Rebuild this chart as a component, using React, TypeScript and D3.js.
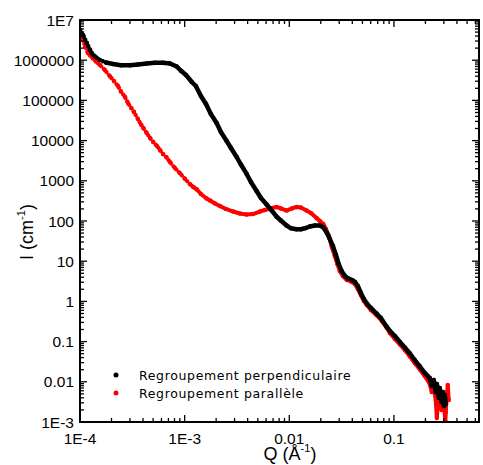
import React from "react";
import * as d3 from "d3";

const perpQ = [1.00e-4,1.07e-4,1.16e-4,1.25e-4,1.30e-4,1.39e-4,1.55e-4,1.77e-4,2.07e-4,2.46e-4,3.01e-4,3.58e-4,4.34e-4,5.20e-4,6.21e-4,7.24e-4,8.39e-4,9.29e-4,1.03e-3,1.17e-3,1.28e-3,1.43e-3,1.60e-3,1.78e-3,2.02e-3,2.22e-3,2.52e-3,2.77e-3,3.14e-3,3.45e-3,3.91e-3,4.30e-3,4.87e-3,5.36e-3,6.07e-3,6.67e-3,7.56e-3,8.31e-3,9.42e-3,1.04e-2,1.17e-2,1.29e-2,1.44e-2,1.57e-2,1.76e-2,1.96e-2,2.12e-2,2.29e-2,2.44e-2,2.61e-2,2.79e-2,2.94e-2,3.16e-2,3.40e-2,3.65e-2,3.97e-2,4.24e-2,4.52e-2,4.83e-2,5.16e-2,5.51e-2,6.02e-2,6.82e-2,7.50e-2,8.49e-2,9.14e-2,0.102,0.114,0.127,0.142,0.158,0.177,0.197,0.220,0.230,0.240,0.251,0.257,0.269,0.274,0.286,0.293,0.300,0.306,0.313];
const perpI = [5.64e6,4.24e6,2.68e6,1.79e6,1.47e6,1.24e6,1.01e6,8.77e5,8.05e5,7.46e5,7.46e5,7.82e5,8.28e5,8.61e5,8.67e5,8.28e5,6.97e5,5.38e5,4.29e5,2.87e5,2.28e5,1.29e5,8.13e4,4.59e4,2.74e4,1.64e4,9.77e3,6.55e3,3.91e3,2.54e3,1.48e3,933,557,373,257,193,128,103,77.3,65.8,62.2,62.2,67.0,72.9,77.3,77.3,68.9,50.2,35.6,23.9,14.3,9.02,5.70,4.29,3.72,3.41,3.04,2.42,1.62,1.15,0.887,0.686,0.500,0.386,0.238,0.184,0.138,0.0977,0.0713,0.0506,0.0348,0.0240,0.0166,0.0124,0.00787,0.0111,0.00557,0.00881,0.00395,0.00702,0.00315,0.00557,0.00250,0.00470,0.00281];

const paraQ = [1.00e-4,1.04e-4,1.12e-4,1.19e-4,1.25e-4,1.33e-4,1.42e-4,1.55e-4,1.73e-4,1.94e-4,2.11e-4,2.31e-4,2.46e-4,2.68e-4,2.87e-4,3.09e-4,3.28e-4,3.58e-4,3.83e-4,4.03e-4,4.34e-4,4.67e-4,5.01e-4,5.44e-4,5.81e-4,6.21e-4,6.73e-4,7.24e-4,8.07e-4,9.02e-4,1.01e-3,1.12e-3,1.21e-3,1.31e-3,1.43e-3,1.62e-3,1.75e-3,1.95e-3,2.17e-3,2.48e-3,2.91e-3,3.37e-3,3.91e-3,4.49e-3,5.24e-3,5.85e-3,6.53e-3,7.56e-3,8.31e-3,9.42e-3,1.06e-2,1.17e-2,1.29e-2,1.46e-2,1.61e-2,1.82e-2,1.96e-2,2.11e-2,2.24e-2,2.39e-2,2.55e-2,2.72e-2,2.88e-2,3.04e-2,3.25e-2,3.55e-2,3.88e-2,4.24e-2,4.52e-2,4.83e-2,5.16e-2,5.51e-2,6.02e-2,6.87e-2,7.66e-2,8.55e-2,9.14e-2,0.102,0.114,0.127,0.142,0.158,0.177,0.197,0.220,0.230,0.240,0.251,0.257,0.263,0.274,0.286,0.300,0.310,0.313,0.320,0.327,0.334];
const paraI = [4.75e6,3.56e6,2.25e6,1.51e6,1.31e6,1.10e6,9.29e5,7.60e5,5.70e5,3.94e5,3.04e5,2.28e5,1.66e5,1.25e5,8.61e4,6.47e4,5.14e4,3.44e4,2.51e4,2.06e4,1.55e4,1.16e4,9.23e3,7.34e3,5.84e3,4.65e3,3.80e3,2.94e3,2.08e3,1.54e3,1.11e3,832,701,608,470,363,324,272,236,199,172,154,145,149,172,188,205,223,205,182,205,223,217,182,158,119,100,84.1,63.2,42.4,22.5,13.5,8.51,5.70,4.29,3.41,3.13,2.71,2.03,1.44,1.02,0.813,0.611,0.446,0.325,0.218,0.164,0.116,0.0847,0.0618,0.0426,0.0294,0.0202,0.0139,0.00881,0.00557,0.00702,0.00352,0.00126,0.00265,0.00315,0.00199,0.00281,0.00106,0.00177,0.00470,0.00832,0.00352];

const yTickVals = [1e7,1e6,1e5,1e4,1e3,100,10,1,0.1,0.01,1e-3];
const yTickLabels = ["1E7","1000000","100000","10000","1000","100","10","1","0.1","0.01","1E-3"];
const xTickVals = [1e-4,1e-3,0.01,0.1];
const xTickLabels = ["1E-4","1E-3","0.01","0.1"];
const seriesNames = ["Regroupement perpendiculaire","Regroupement parallèle"];
const seriesColors = ["#000000","#ff0000"];

const W = 483, H = 465;
const L = 80, R = 479, T = 20, B = 422;

export default function App() {
  const x = d3.scaleLog().domain([1e-4, 0.65]).range([L, R]);
  const y = d3.scaleLog().domain([1e-3, 1e7]).range([B, T]);

  const xMinor: number[] = [];
  for (let e = -4; e <= -1; e++) for (let m = 2; m <= 9; m++) {
    const v = m * Math.pow(10, e);
    if (v <= 0.65) xMinor.push(v);
  }
  const yMinor: number[] = [];
  for (let e = -3; e < 7; e++) for (let m = 2; m <= 9; m++) yMinor.push(m * Math.pow(10, e));

  const perp = perpQ.map((q, i) => [q, perpI[i]] as [number, number]);
  const para = paraQ.map((q, i) => [q, paraI[i]] as [number, number]);
  const line = d3.line<[number, number]>().x(d => x(d[0])).y(d => y(d[1]));
  const paraLow = para.filter(d => d[0] <= 1.12e-3);
  const paraHigh = para.filter(d => d[0] >= 1.1e-3);
  const perpLow = perp.filter(d => d[0] <= 1.8e-4);
  const perpHigh = perp.filter(d => d[0] >= 1.7e-4);

  const font = "'Liberation Sans', Arial, sans-serif";
  const MJ = 7, MN = 4;

  return (
    <svg width={W} height={H} style={{ position: "absolute", left: 0, top: 0, background: "#fff" }}>
      <defs>
        <clipPath id="plot"><rect x={L} y={T} width={R - L} height={B - T} /></clipPath>
      </defs>
      <g clipPath="url(#plot)">
        <path d={line(paraLow) || ""} fill="none" stroke={seriesColors[1]} strokeWidth={4.2} strokeLinecap="round" strokeDasharray="0.01 4" />
        <path d={line(paraHigh) || ""} fill="none" stroke={seriesColors[1]} strokeWidth={4} strokeLinejoin="round" strokeLinecap="round" />
        {para.map((d, i) => <circle key={"r" + i} cx={x(d[0])} cy={y(d[1])} r={2.2} fill={seriesColors[1]} />)}
        <path d={line(perpLow) || ""} fill="none" stroke={seriesColors[0]} strokeWidth={4.4} strokeLinecap="round" strokeDasharray="0.01 3.6" />
        <path d={line(perpHigh) || ""} fill="none" stroke={seriesColors[0]} strokeWidth={4.5} strokeLinejoin="round" strokeLinecap="round" />
        {perp.map((d, i) => <circle key={"b" + i} cx={x(d[0])} cy={y(d[1])} r={2.3} fill={seriesColors[0]} />)}
      </g>
      <g stroke="#000" strokeWidth={1.3}>
        {xTickVals.map((v, i) => <g key={"xt" + i}>
          <line x1={x(v)} x2={x(v)} y1={B} y2={B - MJ} />
          <line x1={x(v)} x2={x(v)} y1={T} y2={T + MJ} />
        </g>)}
        {xMinor.map((v, i) => <g key={"xm" + i}>
          <line x1={x(v)} x2={x(v)} y1={B} y2={B - MN} />
          <line x1={x(v)} x2={x(v)} y1={T} y2={T + MN} />
        </g>)}
        {yTickVals.map((v, i) => <g key={"yt" + i}>
          <line x1={L} x2={L + MJ} y1={y(v)} y2={y(v)} />
          <line x1={R} x2={R - MJ} y1={y(v)} y2={y(v)} />
        </g>)}
        {yMinor.map((v, i) => <g key={"ym" + i}>
          <line x1={L} x2={L + MN} y1={y(v)} y2={y(v)} />
          <line x1={R} x2={R - MN} y1={y(v)} y2={y(v)} />
        </g>)}
      </g>
      <rect x={L} y={T} width={R - L} height={B - T} fill="none" stroke="#000" strokeWidth={2} />
      <g fontFamily={font} fontSize={15.5} fill="#000">
        {yTickVals.map((v, i) => <text key={"yl" + i} x={L - 6} y={y(v)} dy="0.36em" textAnchor="end">{yTickLabels[i]}</text>)}
        {xTickVals.map((v, i) => <text key={"xl" + i} x={x(v)} y={444} textAnchor="middle">{xTickLabels[i]}</text>)}
      </g>
      <text x={290} y={460} textAnchor="middle" fontFamily={font} fontSize={18}>
        Q (Å<tspan fontSize={11} dy={-8}>-1</tspan><tspan dy={8}>)</tspan>
      </text>
      <text transform={`translate(33,232) rotate(-90)`} textAnchor="middle" fontFamily={font} fontSize={18}>
        I (cm<tspan fontSize={11} dy={-8}>-1</tspan><tspan dy={8}>)</tspan>
      </text>
      <g fontFamily="'DejaVu Sans', Verdana, sans-serif" fontSize={12.5} letterSpacing={0.65}>
        {seriesNames.map((n, i) => <g key={"lg" + i}>
          <circle cx={116} cy={375 + i * 18} r={2.5} fill={seriesColors[i]} />
          <text x={139} y={380 + i * 18} fill="#000">{n}</text>
        </g>)}
      </g>
    </svg>
  );
}
